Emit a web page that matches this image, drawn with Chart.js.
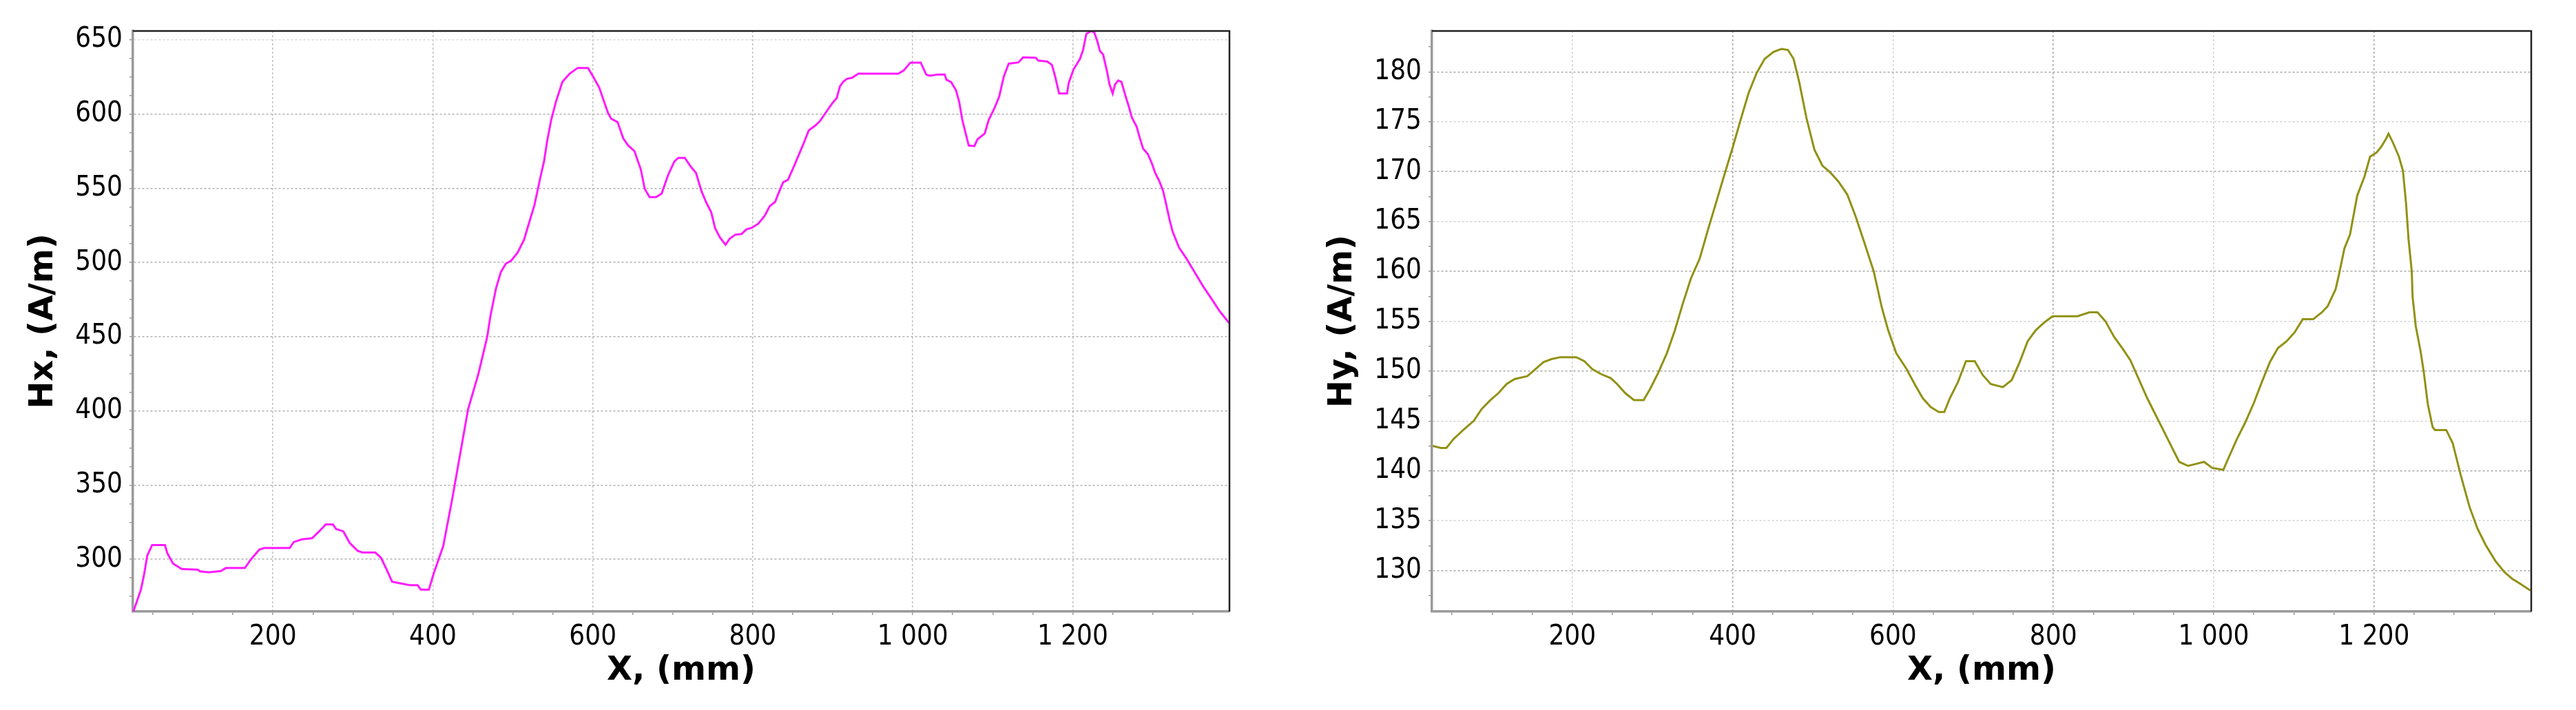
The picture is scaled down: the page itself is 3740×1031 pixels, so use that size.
<!DOCTYPE html>
<html>
<head>
<meta charset="utf-8">
<script src="https://cdn.jsdelivr.net/npm/chart.js@4.4.0/dist/chart.umd.min.js"></script>
<style>
	html, body { margin: 0; padding: 0; background: #fff; }
	.box { position: absolute; top: 0; width: 1870px; height: 1031px; }
	#boxHx { left: 0; }
	#boxHy { left: 1870px; }
</style>
</head>
<body>
<div class="box" id="boxHx"><canvas id="chartHx"></canvas></div>
<div class="box" id="boxHy"><canvas id="chartHy"></canvas></div>
<script>
//HX PROFILE
const hxX = [
	25, 35, 39, 43, 49, 65, 68, 75, 86, 106, 109, 120, 135, 141, 165, 172, 183, 189, 221, 226,
	236, 249, 258, 266, 275, 279, 288, 296, 306, 312, 328, 335, 342, 349, 359, 372, 381, 385, 395, 401,
	413, 424, 434, 444, 457, 468, 472, 479, 485, 491, 498, 506, 514, 520, 527, 535, 539, 543, 548, 554,
	562, 571, 581, 594, 600, 608, 613, 619, 623, 631, 638, 644, 652, 660, 665, 671, 679, 686, 694, 702,
	707, 715, 723, 729, 736, 742, 748, 753, 759, 766, 771, 778, 786, 792, 799, 807, 815, 821, 828, 832,
	838, 844, 851, 859, 865, 870, 878, 884, 892, 899, 905, 909, 913, 918, 924, 932, 982, 989, 997, 1010,
	1017, 1022, 1031, 1040, 1042, 1048, 1054, 1058, 1062, 1067, 1070, 1077, 1081, 1090, 1095, 1102, 1108, 1114, 1120, 1132,
	1138, 1154, 1157, 1168, 1174, 1178, 1183, 1193, 1195, 1201, 1209, 1213, 1217, 1223, 1227, 1231, 1234, 1238, 1243, 1246,
	1250, 1253, 1257, 1261, 1266, 1270, 1274, 1280, 1284, 1288, 1294, 1299, 1303, 1308, 1313, 1317, 1321, 1325, 1333, 1343,
	1353, 1363, 1373, 1384, 1396
];
const hxValues = [
	264, 279.5, 290, 302.6, 309.6, 309.6, 304.2, 297.2, 293.4, 293, 291.8, 291.3, 292.1, 294.1, 294.1, 299.5, 306.5, 307.6, 307.6, 311.6,
	313.4, 314.2, 318.9, 323.5, 323.5, 320.4, 318.9, 311.1, 305.7, 304.6, 304.6, 301.1, 293.4, 284.9, 283.8, 282.5, 282.5, 279.5, 279.5, 290.3,
	309, 340, 370.5, 401, 425.1, 450, 464, 482.6, 493.5, 499, 501.3, 506.7, 515.3, 526.2, 538.6, 558.8, 568.1, 582.1, 596.1, 608.5,
	621.8, 627.2, 631.1, 631.1, 625.6, 617.9, 610.1, 600.8, 596.9, 594.6, 583.7, 579, 575.1, 562.7, 549.5, 544, 544, 546.4, 558.8, 568.1,
	570.5, 570.5, 564.2, 560.4, 547.9, 540.2, 533.9, 523, 516.8, 511.9, 516, 518.7, 519.2, 522.3, 523.4, 526.2, 531.6, 537.8, 540.9, 546.4,
	554.1, 555.7, 564.2, 574.4, 582.1, 589.1, 592.2, 595.3, 601.6, 607, 610.9, 618.7, 621.8, 623.8, 624.4, 627.2, 627.2, 629.5, 634.7, 634.7,
	626.5, 625.8, 626.7, 626.7, 623.2, 621.6, 616.2, 608.5, 596.1, 585.3, 578.8, 578.4, 583, 586.9, 596.1, 603.8, 611.6, 625.5, 634, 634.8,
	638.2, 637.9, 636, 635.5, 633.2, 625.5, 613.9, 613.9, 620.9, 630.1, 637.1, 643.2, 654, 656, 655, 648.7, 642.5, 640.2, 628.6, 620.1,
	613.9, 620.1, 622.7, 621.6, 612.3, 605.4, 597.7, 591.5, 583.8, 576.8, 573, 566.8, 560.6, 555.2, 548.3, 539, 529, 520.7, 510, 502,
	493, 484, 476, 467, 459
];

//HY PROFILE
const hyX = [
	26, 36, 43, 52, 64, 77, 87, 98, 108, 118, 128, 144, 154, 164, 174, 185, 205, 215, 225, 236,
	248, 256, 266, 277, 289, 297, 307, 318, 328, 338, 348, 359, 369, 379, 389, 400, 410, 420, 430, 440,
	451, 461, 469, 476, 483, 492, 502, 512, 522, 532, 543, 553, 563, 576, 586, 594, 604, 617, 627, 637,
	647, 657, 664, 671, 681, 691, 702, 712, 722, 737, 748, 758, 768, 778, 789, 799, 809, 830, 845, 855,
	865, 876, 886, 896, 906, 917, 927, 937, 947, 957, 968, 978, 988, 998, 1012, 1019, 1029, 1039, 1050, 1060,
	1070, 1080, 1091, 1101, 1111, 1124, 1135, 1142, 1152, 1156, 1163, 1170, 1179, 1188, 1195, 1203, 1209, 1215, 1218, 1223,
	1231, 1236, 1240, 1243, 1247, 1248, 1252, 1258, 1262, 1267, 1273, 1276, 1290, 1298, 1308, 1319, 1329, 1339, 1351, 1362,
	1372, 1382, 1395
];
const hyValues = [
	142.5, 142.3, 142.3, 143.2, 144.1, 145, 146.2, 147.1, 147.8, 148.7, 149.2, 149.5, 150.2, 150.9, 151.2, 151.4, 151.4, 151, 150.2, 149.7,
	149.3, 148.7, 147.8, 147.1, 147.1, 148.2, 149.8, 151.8, 154.1, 156.8, 159.3, 161.3, 164.1, 166.8, 169.5, 172.4, 175.2, 177.9, 179.9, 181.3,
	182, 182.3, 182.2, 181.3, 179, 175.4, 172.2, 170.6, 169.9, 169, 167.7, 165.6, 163.2, 160, 156.4, 154.1, 151.8, 150.2, 148.7, 147.3,
	146.4, 145.9, 145.9, 147.3, 148.9, 151, 151, 149.6, 148.7, 148.4, 149.1, 150.9, 153, 154.1, 154.9, 155.5, 155.5, 155.5, 155.9, 155.9,
	155, 153.4, 152.3, 151.1, 149.3, 147.3, 145.7, 144.1, 142.5, 140.9, 140.5, 140.7, 140.9, 140.3, 140.1, 141.4, 143.2, 144.8, 146.8, 148.9,
	150.9, 152.3, 153, 153.9, 155.2, 155.2, 155.9, 156.5, 158.2, 159.6, 162.3, 163.7, 167.6, 169.5, 171.5, 171.9, 172.5, 173.3, 173.8, 173,
	171.5, 170.1, 166.7, 163.2, 160, 157.5, 154.5, 152, 149.9, 146.7, 144.4, 144.1, 144.1, 142.8, 139.6, 136.4, 134.2, 132.6, 131, 129.9,
	129.2, 128.7, 128
];

const xRange = [25, 1396];
const hxRange = [264.8, 656];
const hyRange = [125.9, 184.1];
const xTitle = "X, (mm)";
const hxTitle = "Hx, (A/m)";
const hyTitle = "Hy, (A/m)";

const tickFont = { family: "'DejaVu Sans Condensed', 'Liberation Sans', sans-serif", size: 40 };
const titleFont = { family: "'DejaVu Sans', sans-serif", size: 48, weight: "bold" };

function spaced(v) {
	return String(Math.round(v)).replace(/\B(?=(\d{3})+(?!\d))/g, " ");
}
function isMultiple(v, m) {
	const r = Math.abs(v % m);
	return r < 1e-6 || Math.abs(r - m) < 1e-6;
}

const frame = {
	id: "frame",
	afterDraw(chart) {
		const { ctx, chartArea: a } = chart;
		ctx.save();
		ctx.strokeStyle = "#222";
		ctx.lineWidth = 2.5;
		ctx.beginPath();
		ctx.moveTo(a.left, a.top);
		ctx.lineTo(a.right, a.top);
		ctx.lineTo(a.right, a.bottom);
		ctx.stroke();
		ctx.restore();
	},
};

function makeConfig(xs, ys, color, yRange, yStep, yLabelStep, yTitle, yWidth, yTitlePad, rightPad, gridY, gridX) {
	return {
		type: "line",
		data: {
			datasets: [
				{
					data: xs.map((x, i) => ({ x: x, y: ys[i] })),
					borderColor: color,
					borderWidth: 3,
					pointRadius: 0,
					tension: 0,
					fill: false,
				},
			],
		},
		options: {
			responsive: true,
			maintainAspectRatio: false,
			devicePixelRatio: 1,
			animation: false,
			layout: { padding: { top: 45, right: rightPad, left: 0, bottom: 0 } },
			plugins: { legend: { display: false }, tooltip: { enabled: false } },
			scales: {
				x: {
					type: "linear",
					min: xRange[0],
					max: xRange[1],
					afterFit: (s) => { s.height = 143; },
					ticks: {
						stepSize: 50,
						maxTicksLimit: 1000,
						includeBounds: false,
						autoSkip: false,
						maxRotation: 0,
						padding: 9,
						color: "#000",
						font: tickFont,
						callback: (v) => (isMultiple(v, 200) ? spaced(v) : ""),
					},
					grid: {
						color: (c) => (c.tick && isMultiple(c.tick.value, 200) ? gridX(c.tick.value) : "transparent"),
						lineWidth: 1.5,
						tickLength: 5,
						tickColor: "#9a9a9a",
						tickWidth: 1.5,
					},
					border: { color: "#9a9a9a", width: 3.5, dash: [3, 3] },
					title: { display: true, text: xTitle, font: titleFont, color: "#000", padding: { top: 0, bottom: 28 } },
				},
				y: {
					type: "linear",
					min: yRange[0],
					max: yRange[1],
					afterFit: (s) => { s.width = yWidth; },
					ticks: {
						stepSize: yStep,
						maxTicksLimit: 1000,
						includeBounds: false,
						autoSkip: false,
						padding: 10,
						color: "#000",
						font: tickFont,
						callback: (v) => (isMultiple(v, yLabelStep) ? spaced(v) : ""),
					},
					grid: {
						color: (c) => (c.tick && isMultiple(c.tick.value, yLabelStep) ? gridY(c.tick.value) : "transparent"),
						lineWidth: 1.5,
						tickLength: 5,
						tickColor: "#9a9a9a",
						tickWidth: 1.5,
					},
					border: { color: "#9a9a9a", width: 3.5, dash: [3, 3] },
					title: { display: true, text: yTitle, font: titleFont, color: "#000", padding: { top: yTitlePad, bottom: 0 } },
				},
			},
		},
		plugins: [frame],
	};
}

const HxChart = new Chart(
	document.getElementById("chartHx"),
	makeConfig(hxX, hxValues, "#ff1aff", hxRange, 12.5, 50, hxTitle, 193, 35, 85,
		(v) => (v === 650 ? "#dadada" : "#b0b0b0"),
		(v) => "#c0c0c0")
);

const HyChart = new Chart(
	document.getElementById("chartHy"),
	makeConfig(hyX, hyValues, "#919114", hyRange, 2.5, 5, hyTitle, 209, 51, 65,
		(v) => (isMultiple(v, 10) ? "#a8a8a8" : "#d2d2d2"),
		(v) => (isMultiple(v, 400) ? "#a8a8a8" : "#d2d2d2"))
);
</script>
</body>
</html>
